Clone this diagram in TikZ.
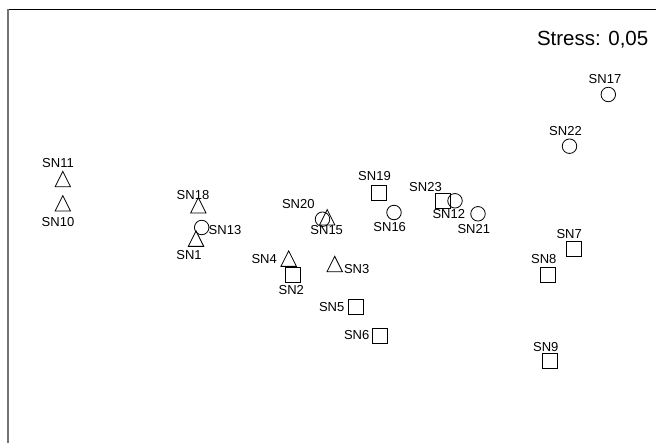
\documentclass[tikz,border=0pt]{standalone}
\usepackage{fontspec}
\setmainfont{Liberation Sans}
\usetikzlibrary{shapes.geometric}
\tikzset{
  mk/.style={draw=black, line width=0.8pt, inner sep=0pt, fill=none},
  sq/.style={mk, rectangle, minimum width=15pt, minimum height=15pt},
  ci/.style={mk, circle, minimum size=14.5pt},
  tr/.style={mk, isosceles triangle, shape border rotate=90, isosceles triangle stretches, minimum width=15.5pt, minimum height=15.5pt, anchor=south},
  lb/.style={inner sep=0pt, font=\fontsize{13}{15}\selectfont},
}
\begin{document}
\begin{tikzpicture}[x=1pt,y=-1pt]
\useasboundingbox (0,0) rectangle (656,443);
% frame
\coordinate (tl) at (8,9.5);
\coordinate (tr) at (656,9.5);
\coordinate (bl) at (8,443);
\draw[black, line width=1pt] (tl) -- (tr);
\draw[black!55, line width=1.8pt] (tl) -- (bl);
\node[lb, font=\fontsize{20.5}{24}\selectfont, anchor=base east] (stress) at (648.5,45.5) {Stress: 0,05};
% points
\node[tr] (p11) at (62.8,187.2) {};
\node[lb] (l11) at (58,163.3) {SN11};
\node[tr] (p10) at (62.8,211.5) {};
\node[lb] (l10) at (58,222) {SN10};
\node[tr] (p18) at (198.3,213.5) {};
\node[lb] (l18) at (193,194.7) {SN18};
\node[ci] (p13) at (201.7,227.5) {};
\node[lb] (l13) at (225,230.5) {SN13};
\node[tr] (p1) at (196,246.8) {};
\node[lb] (l1) at (189,254.7) {SN1};
\node[ci] (p20) at (322.5,219.2) {};
\node[lb] (l20) at (298.3,204.3) {SN20};
\node[tr] (p15) at (327.2,225.5) {};
\node[lb] (l15) at (326.7,230.5) {SN15};
\node[sq] (p19) at (378.7,193) {};
\node[lb] (l19) at (374.5,176) {SN19};
\node[ci] (p16) at (394,212.5) {};
\node[lb] (l16) at (389.7,226.7) {SN16};
\node[sq] (p23) at (442.8,200.5) {};
\node[lb] (l23) at (425.5,187) {SN23};
\node[ci] (p12) at (455,200.8) {};
\node[lb] (l12) at (448.8,214.3) {SN12};
\node[ci] (p21) at (478,213.8) {};
\node[lb] (l21) at (473.8,228.7) {SN21};
\node[tr] (p4) at (288.7,266.8) {};
\node[lb] (l4) at (264.2,259.2) {SN4};
\node[sq] (p2) at (292.5,275.3) {};
\node[lb] (l2) at (291.3,290) {SN2};
\node[tr] (p3) at (334.7,272.2) {};
\node[lb] (l3) at (356.7,269.5) {SN3};
\node[sq] (p5) at (355.8,306.8) {};
\node[lb] (l5) at (331.7,306.7) {SN5};
\node[sq] (p6) at (380.3,336.2) {};
\node[lb] (l6) at (356.7,335.3) {SN6};
\node[ci] (p17) at (608.3,94.5) {};
\node[lb] (l17) at (605,79) {SN17};
\node[ci] (p22) at (569.5,146.2) {};
\node[lb] (l22) at (565.5,131) {SN22};
\node[sq] (p7) at (573.8,248.7) {};
\node[lb] (l7) at (569.2,234.3) {SN7};
\node[sq] (p8) at (548,275) {};
\node[lb] (l8) at (543.8,259.3) {SN8};
\node[sq] (p9) at (549.7,360.5) {};
\node[lb] (l9) at (545.8,346.7) {SN9};
\end{tikzpicture}
\end{document}
